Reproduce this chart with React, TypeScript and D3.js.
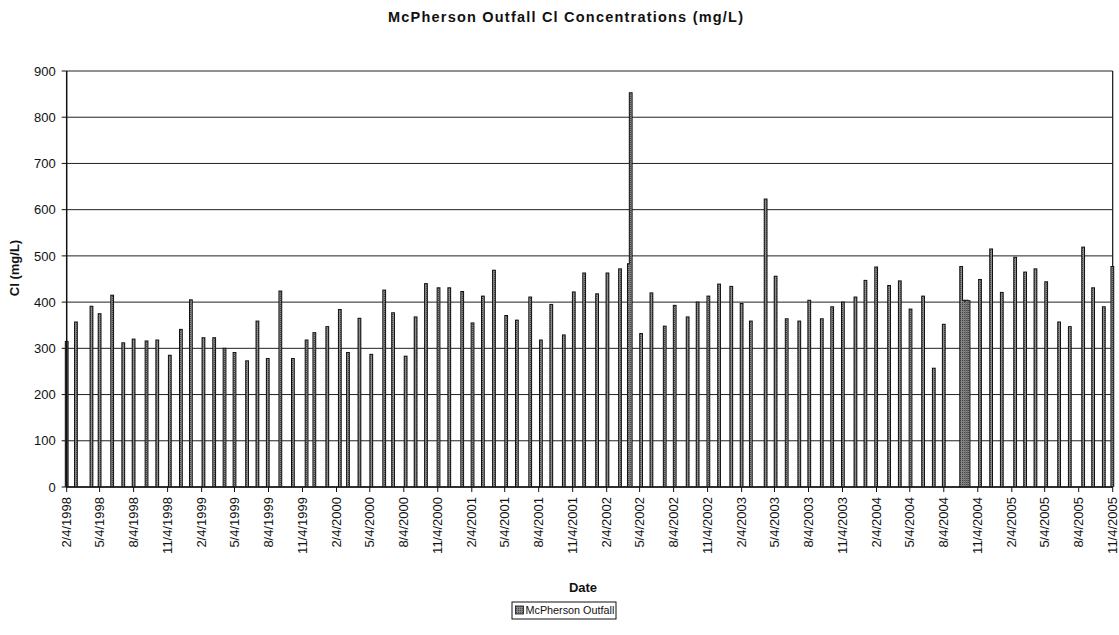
import React from "react";
import * as d3 from "d3";

const sampleDates: string[] = [
  "1998-02-04","1998-03-01","1998-04-12","1998-05-04","1998-06-07","1998-07-07","1998-08-04","1998-09-08",
  "1998-10-07","1998-11-10","1998-12-10","1999-01-06","1999-02-09","1999-03-10","1999-04-07","1999-05-04",
  "1999-06-07","1999-07-05","1999-08-02","1999-09-05","1999-10-09","1999-11-15","1999-12-06","2000-01-10",
  "2000-02-13","2000-03-06","2000-04-06","2000-05-08","2000-06-12","2000-07-06","2000-08-09","2000-09-05",
  "2000-10-03","2000-11-06","2000-12-05","2001-01-09","2001-02-06","2001-03-06","2001-04-05","2001-05-08",
  "2001-06-06","2001-07-12","2001-08-10","2001-09-07","2001-10-11","2001-11-07","2001-12-05","2002-01-09",
  "2002-02-06","2002-03-12","2002-04-05","2002-04-10","2002-05-08","2002-06-05","2002-07-11","2002-08-07",
  "2002-09-11","2002-10-08","2002-11-06","2002-12-05","2003-01-07","2003-02-04","2003-03-01","2003-04-10",
  "2003-05-07","2003-06-06","2003-07-10","2003-08-06","2003-09-09","2003-10-07","2003-11-05","2003-12-09",
  "2004-01-05","2004-02-03","2004-03-09","2004-04-07","2004-05-06","2004-06-09","2004-07-08","2004-08-04",
  "2004-09-20","2004-09-25","2004-09-30","2004-10-05","2004-10-10","2004-11-10","2004-12-10","2005-01-08",
  "2005-02-13","2005-03-12","2005-04-09","2005-05-08","2005-06-12","2005-07-11","2005-08-16","2005-09-12",
  "2005-10-11","2005-11-03"
];

const clValues: number[] = [
  315,357,391,375,415,312,320,316,
  318,285,341,405,323,323,300,291,
  273,359,278,424,278,318,334,347,
  384,291,365,287,426,377,283,368,
  440,431,431,423,355,413,469,371,
  361,411,318,395,329,422,463,418,
  463,472,483,853,332,420,348,393,
  368,400,413,439,434,397,359,623,
  456,364,359,404,364,390,400,411,
  447,476,436,446,385,413,257,352,
  477,404,402,404,403,449,515,421,
  497,465,472,444,357,347,519,431,
  390,477
];

const yTicks: number[] = [0, 100, 200, 300, 400, 500, 600, 700, 800, 900];
const seriesName = "McPherson Outfall";
const titleText = "McPherson Outfall Cl Concentrations (mg/L)";
const yTitle = "Cl (mg/L)";
const xTitle = "Date";

const W = 1119;
const H = 635;
const left = 66.7;
const right = 1112.7;
const top = 71;
const bottom = 487;
const FONT = "'Liberation Sans', Arial, sans-serif";

export default function App() {
  const parse = d3.timeParse("%Y-%m-%d");
  const start = new Date(1998, 1, 4);
  const end = new Date(2005, 10, 4);
  const x = d3.scaleTime().domain([start, end]).range([left, right]);
  const y = d3.scaleLinear().domain([0, 900]).range([bottom, top]);

  const xTicks: Date[] = [];
  for (let i = 0; i <= 31; i++) xTicks.push(new Date(1998, 1 + 3 * i, 4));
  const fmt = (d: Date) => `${d.getMonth() + 1}/${d.getDate()}/${d.getFullYear()}`;

  const data = sampleDates.map((s, i) => ({ date: parse(s) as Date, v: clValues[i] }));
  const bw = 3.8;
  const inset = 1;

  return (
    <svg width={W} height={H} style={{ position: "absolute", left: 0, top: 0, background: "#fff" }} fontFamily={FONT}>
      <defs>
        <pattern id="dots" width="2" height="2" patternUnits="userSpaceOnUse">
          <rect width="2" height="2" fill="#8a8a8a" />
          <rect width="1" height="1" fill="#4a4a4a" />
        </pattern>
      </defs>
      <rect x={0} y={0} width={W} height={H} fill="#fff" />
      <text x={565.5} y={22} textAnchor="middle" fontSize={14.5} fontWeight="bold" fill="#111"
        textLength={355} lengthAdjust="spacing">{titleText}</text>

      {yTicks.map((t) => (
        <g key={t}>
          <line x1={left} x2={right} y1={y(t)} y2={y(t)} stroke="#222" strokeWidth={1} />
          <line x1={left - 5} x2={left} y1={y(t)} y2={y(t)} stroke="#111" strokeWidth={1} />
          <text x={left - 11} y={y(t)} dy="0.36em" textAnchor="end" fontSize={13} fill="#111">{t}</text>
        </g>
      ))}
      <line x1={right} x2={right} y1={top} y2={bottom} stroke="#111" strokeWidth={1.2} />

      {data.map((d, i) => (
        <rect key={"o" + i} x={x(d.date) - bw / 2} y={y(d.v) - 0.5} width={bw} height={bottom - y(d.v) + 0.5}
          fill="#111" />
      ))}
      {data.map((d, i) => (
        <rect key={"f" + i} x={x(d.date) - bw / 2 + inset} y={y(d.v) + inset - 0.5}
          width={bw - 2 * inset} height={Math.max(0, bottom - y(d.v) - inset + 0.5)}
          fill="url(#dots)" />
      ))}

      <line x1={left} x2={left} y1={top} y2={bottom} stroke="#111" strokeWidth={1.5} />
      <line x1={left} x2={right} y1={bottom} y2={bottom} stroke="#111" strokeWidth={1.5} />

      {xTicks.map((t, i) => (
        <g key={i}>
          <line x1={x(t)} x2={x(t)} y1={bottom} y2={bottom + 5} stroke="#111" strokeWidth={1} />
          <text transform={`translate(${x(t)},${bottom + 10}) rotate(-90)`} textAnchor="end" dy="0.35em"
            fontSize={13} fill="#111">{fmt(t)}</text>
        </g>
      ))}

      <text transform={`translate(19,268) rotate(-90)`} textAnchor="middle" fontSize={13}
        fontWeight="bold" fill="#111">{yTitle}</text>
      <text x={583} y={592} textAnchor="middle" fontSize={13} fontWeight="bold" fill="#111">{xTitle}</text>

      <g>
        <rect x={512} y={602} width={104} height={17} fill="#fff" stroke="#111" strokeWidth={1} />
        <rect x={515.5} y={606} width={8} height={8} fill="url(#dots)" stroke="#111" strokeWidth={0.8} />
        <text x={525.5} y={610.5} dy="0.36em" fontSize={10.8} fill="#111">{seriesName}</text>
      </g>
    </svg>
  );
}
